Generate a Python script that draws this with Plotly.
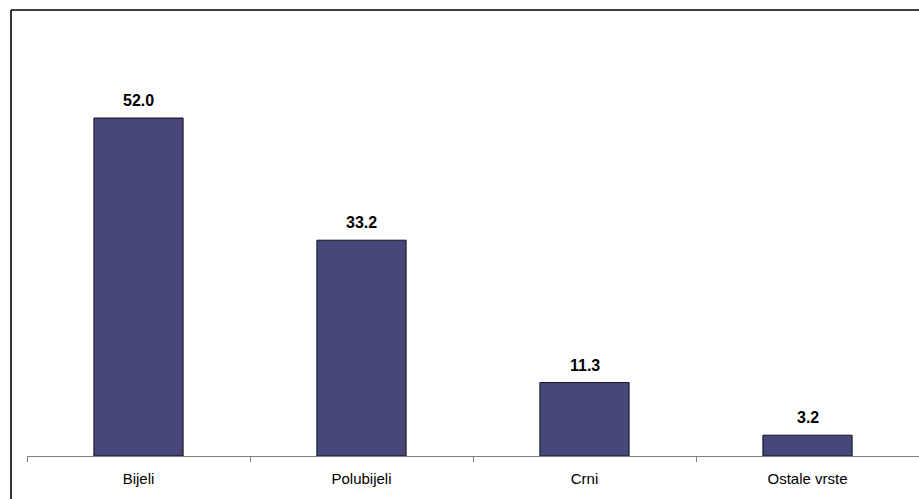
import plotly.graph_objects as go

categories = ["Bijeli", "Polubijeli", "Crni", "Ostale vrste"]
values = [52.0, 33.2, 11.3, 3.2]

BAR_COLOR = "#47477A"
FONT = "Arial, Liberation Sans, sans-serif"

fig = go.Figure()
fig.add_trace(go.Bar(
    x=categories, y=values, width=0.4,
    marker=dict(color=BAR_COLOR, line=dict(color="#111122", width=1)),
    hoverinfo="skip",
))

for c, v in zip(categories, values):
    fig.add_annotation(x=c, y=v, text=f"<b>{v:.1f}</b>", showarrow=False,
                       yanchor="bottom", yshift=7,
                       font=dict(family=FONT, size=16, color="black"))

# outer chart frame (left and top edges visible)
W0, H0 = 892, 390
xl = (11 - 27) / W0
yt = (456 - 10) / H0
fig.add_shape(type="line", xref="paper", yref="paper", x0=xl, x1=1.1, y0=yt, y1=yt,
              line=dict(color="black", width=1.6))
fig.add_shape(type="line", xref="paper", yref="paper", x0=xl, x1=xl, y0=yt, y1=-0.2,
              line=dict(color="black", width=1.6))

fig.update_layout(
    width=919, height=499,
    margin=dict(l=27, r=0, t=66, b=43),
    paper_bgcolor="white", plot_bgcolor="white",
    showlegend=False,
    font=dict(family=FONT, size=15, color="black"),
    xaxis=dict(
        type="category", range=[-0.5, 3.5],
        showline=True, linecolor="#808080", linewidth=1,
        ticks="outside", tickson="boundaries", ticklen=5, tickcolor="#808080",
        showgrid=False, zeroline=False,
        tickfont=dict(family=FONT, size=15, color="black"),
        ticklabelstandoff=9,
    ),
    yaxis=dict(range=[0, 60], visible=False, showgrid=False, zeroline=False),
)

fig.write_html("out.html", config={"displayModeBar": False, "staticPlot": True},
               post_script="document.body.style.margin='0px';document.body.style.overflow='hidden';")
